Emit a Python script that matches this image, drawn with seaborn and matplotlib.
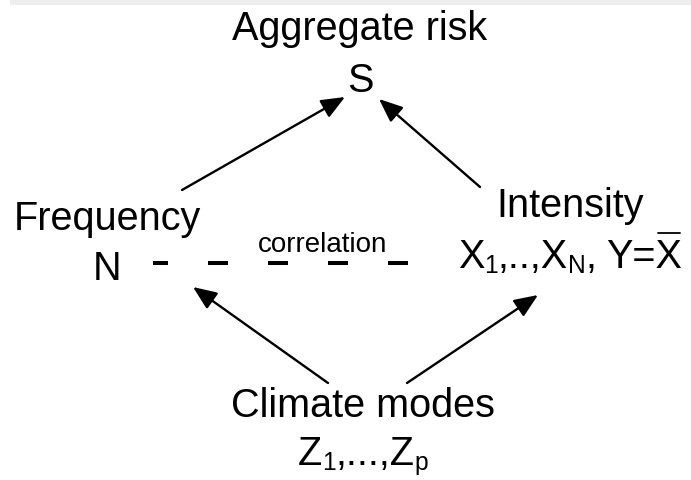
import matplotlib
matplotlib.use("Agg")
import matplotlib.pyplot as plt
import seaborn as sns
from matplotlib.patches import Rectangle

# ── diagram content ─────────────────────────────────────────────
node_titles = ["Aggregate risk", "Frequency", "Intensity", "Climate modes"]
# symbol rows as runs of (text, is_subscript); "" marks a word gap
node_symbols = [
    [("S", False)],
    [("N", False)],
    [("X", False), ("1", True), (",..,X", False), ("N", True), (",", False),
     ("", False), ("Y=X", False)],
    [("Z", False), ("1", True), (",...,Z", False), ("p", True)],
]
overline_last = [False, False, True, False]
link_label = "correlation"

# node anchors in pixel space (x centre, title baseline, symbol baseline)
node_x = [360, 107, 570, 363]
title_y = [40, 230, 217, 417]
symbol_y = [92, 280, 268, 465]

# arrows: (x_from, y_from, x_to, y_to)
arrows = [
    (182, 190, 345, 97),
    (480, 187, 379, 99),
    (328, 383, 193, 287),
    (407, 383, 538, 295),
]

link_x = [153, 408]
link_y = [263, 263]

# ── style ──────────────────────────────────────────────────────
sns.set_theme(style="white")
plt.rcParams["font.family"] = ["Liberation Sans", "DejaVu Sans"]
plt.rcParams["lines.scale_dashes"] = False

FS = 28.5
SUB = 0.62
SUB_DROP = 5
GAP = 10

fig = plt.figure(figsize=(6.91, 4.80), dpi=100)
ax = fig.add_axes([0, 0, 1, 1])
ax.set_xlim(0, 691)
ax.set_ylim(480, 0)
ax.axis("off")
renderer = fig.canvas.get_renderer()

# light grey strip at the very top
ax.add_patch(Rectangle((10, 0), 681, 5, color="#eeeeee", lw=0))


def place_runs(xc, yb, runs, overline=False):
    # lay out a row of normal/subscript pieces centred on xc
    items = []
    for s, sub in runs:
        if s == "":
            items.append((None, GAP))
            continue
        t = ax.text(0, yb + (SUB_DROP if sub else 0), s, ha="left", va="baseline",
                    fontsize=FS * (SUB if sub else 1), color="black")
        items.append((t, t.get_window_extent(renderer).width))
    total = sum(w for _, w in items)
    x = xc - total / 2
    for t, w in items:
        if t is not None:
            t.set_x(x)
        x += w
    if overline:
        t_last, w_last = items[-1]
        s = t_last.get_text()
        probe = ax.text(0, yb, s[-1], fontsize=FS)
        wx = probe.get_window_extent(renderer).width
        probe.remove()
        ax.plot([x - wx + 2, x - 2], [yb - 35, yb - 35], color="black", lw=1.3)


for x, ty, sy, title, runs, ov in zip(node_x, title_y, symbol_y, node_titles,
                                      node_symbols, overline_last):
    ax.text(x, ty, title, ha="center", va="baseline", fontsize=FS, color="black")
    place_runs(x, sy, runs, ov)

for x0, y0, x1, y1 in arrows:
    ax.annotate("", xy=(x1, y1), xytext=(x0, y0),
                arrowprops=dict(arrowstyle="-|>,head_length=0.6,head_width=0.25",
                                mutation_scale=24, lw=1.7, color="black",
                                shrinkA=0, shrinkB=0))

# dashed correlation link
sns.lineplot(x=link_x, y=link_y, ax=ax, color="black", lw=2.9)
ax.lines[-1].set_linestyle((3.6, (14.4, 28.8)))
ax.lines[-1].set_dash_capstyle("butt")
ax.text(323, 252, link_label, ha="center", va="baseline", fontsize=20, color="black")

fig.savefig("out.png", dpi=100)
